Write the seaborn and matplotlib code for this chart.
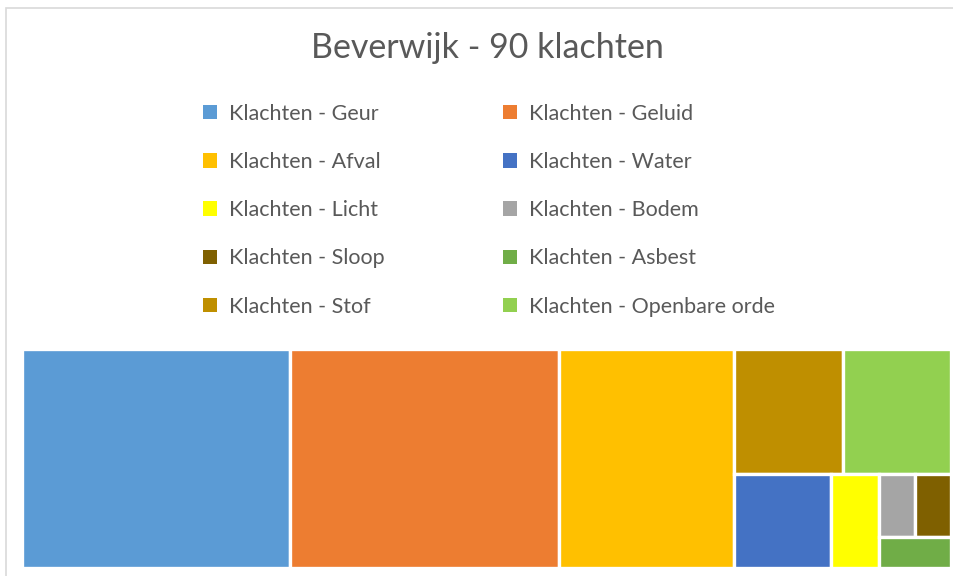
import matplotlib
matplotlib.use("Agg")
import matplotlib.pyplot as plt
from matplotlib.patches import Rectangle, Patch
import seaborn as sns

# data
categories = [
    "Klachten - Geur",
    "Klachten - Geluid",
    "Klachten - Afval",
    "Klachten - Water",
    "Klachten - Licht",
    "Klachten - Bodem",
    "Klachten - Sloop",
    "Klachten - Asbest",
    "Klachten - Stof",
    "Klachten - Openbare orde",
]
counts = [26, 26, 17, 4, 2, 1, 1, 1, 6, 6]
colors = [
    "#5B9BD5", "#ED7D31", "#FFC000", "#4472C4", "#FFFF00",
    "#A5A5A5", "#7F6000", "#70AD47", "#BF8F00", "#92D050",
]
title = "Beverwijk - 90 klachten"


def worst(row, side):
    s = sum(row)
    return max(max(side * side * r / (s * s), s * s / (side * side * r)) for r in row)


def squarify(areas, x, y, w, h):
    """squarified treemap layout, returns list of (x, y, w, h)"""
    rects = []
    areas = list(areas)
    while areas:
        side = min(w, h)
        row = [areas[0]]
        i = 1
        while i < len(areas) and worst(row + [areas[i]], side) <= worst(row, side):
            row.append(areas[i])
            i += 1
        areas = areas[i:]
        s = sum(row)
        if w >= h:
            # column on the left
            cw = s / h
            yy = y
            for r in row:
                rects.append((x, yy, cw, r / cw))
                yy += r / cw
            x += cw
            w -= cw
        else:
            # row along the top
            rh = s / w
            xx = x
            for r in row:
                rects.append((xx, y, r / rh, rh))
                xx += r / rh
            y += rh
            h -= rh
    return rects


sns.set_theme(style="white")
plt.rcParams["font.family"] = ["Lato", "DejaVu Sans"]

W, H = 954, 576
fig = plt.figure(figsize=(W / 100, H / 100), dpi=100)

# light chart border (cropped at right/bottom)
fig.patches.append(Rectangle((6 / W, -0.1), 1.2, 1 - 8 / H + 0.1, transform=fig.transFigure,
                             fill=False, edgecolor="#D9D9D9", linewidth=1.2))

# treemap area
x0, x1, y0, y1 = 22, 951, 349, 568
ax = fig.add_axes([x0 / W, 1 - y1 / H, (x1 - x0) / W, (y1 - y0) / H])
bw, bh = x1 - x0, y1 - y0
order = sorted(range(len(counts)), key=lambda k: -counts[k])
total = sum(counts)
areas = [counts[k] / total * bw * bh for k in order]
for k, (rx, ry, rw, rh) in zip(order, squarify(areas, 0, 0, bw, bh)):
    ax.add_patch(Rectangle((rx, ry), rw, rh, facecolor=colors[k], edgecolor="white", linewidth=2.4))
ax.set_xlim(0, bw)
ax.set_ylim(bh, 0)
ax.axis("off")

fig.text(487 / W, 1 - 48 / H, title, ha="center", va="center", fontsize=24.5, color="#595959")

# legend, two columns filled row-wise
idx = list(range(0, len(categories), 2)) + list(range(1, len(categories), 2))
handles = [Patch(facecolor=colors[i], edgecolor="none") for i in idx]
labels = [categories[i] for i in idx]
fig.legend(handles, labels, ncol=2, frameon=False, loc="upper left",
           bbox_to_anchor=(192 / W, 1 - 93 / H), fontsize=15.5, labelcolor="#595959",
           handlelength=0.65, handleheight=0.65, handletextpad=0.56,
           labelspacing=1.31, columnspacing=5.5, borderpad=0)

fig.savefig("out.png", dpi=100, facecolor="white")
